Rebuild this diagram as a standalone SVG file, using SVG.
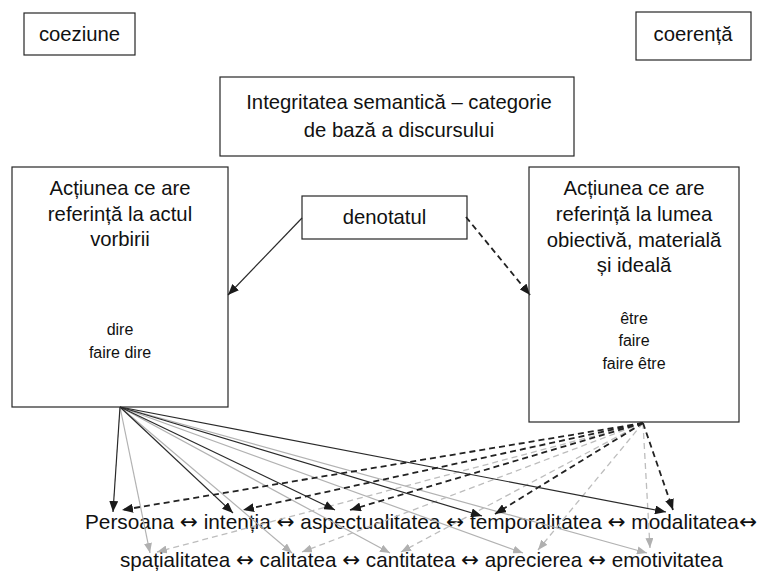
<svg xmlns="http://www.w3.org/2000/svg" width="759" height="573" viewBox="0 0 759 573">
  <style>
    .box { fill: #ffffff; stroke: #262626; stroke-width: 1.2; }
    .t { font-family: "Liberation Sans", Arial, sans-serif; font-size: 20.3px; fill: #111111; text-anchor: middle; }
    .s { font-family: "Liberation Sans", Arial, sans-serif; font-size: 16px; fill: #111111; text-anchor: middle; }
    .row { font-family: "Liberation Sans", Arial, sans-serif; font-size: 20.3px; fill: #111111; }
    .ar { font-family: "Noto Sans", "DejaVu Sans", sans-serif; font-size: 21px; }
    .k { fill: none; stroke: #2a2a2a; stroke-width: 1.2; marker-end: url(#head-dark); }
    .kd { fill: none; stroke: #222222; stroke-width: 1.8; stroke-dasharray: 6 4; marker-end: url(#head-dark); }
    .g { fill: none; stroke: #b2b2b2; stroke-width: 1.2; marker-end: url(#head-grey); }
    .gd { fill: none; stroke: #bdbdbd; stroke-width: 1.3; stroke-dasharray: 6 4; marker-end: url(#head-grey); }
  </style>
  <defs>
    <marker id="head-dark" markerUnits="userSpaceOnUse" markerWidth="11" markerHeight="9" viewBox="0 0 11 9" refX="11" refY="4.5" orient="auto">
      <path d="M0,0 L11,4.5 L0,9 z" fill="#1a1a1a"/>
    </marker>
    <marker id="head-grey" markerUnits="userSpaceOnUse" markerWidth="10" markerHeight="8" viewBox="0 0 10 8" refX="10" refY="4" orient="auto">
      <path d="M0,0 L10,4 L0,8 z" fill="#b0b0b0"/>
    </marker>
  </defs>

  <rect width="759" height="573" fill="#ffffff"/>

  <!-- top labels -->
  <g id="coeziune">
    <rect class="box" x="24" y="13" width="111" height="42"/>
    <text class="t" x="79.5" y="41">coeziune</text>
  </g>
  <g id="coerenta">
    <rect class="box" x="636" y="12" width="115" height="48"/>
    <text class="t" x="693" y="41">coerență</text>
  </g>

  <g id="integritatea">
    <rect class="box" x="220" y="77" width="354" height="79"/>
    <text class="t" x="399" y="109">Integritatea semantică – categorie</text>
    <text class="t" x="399" y="137">de bază a discursului</text>
  </g>

  <!-- the two kinds of action -->
  <g id="actul-vorbirii">
    <rect class="box" x="12" y="167" width="216" height="240"/>
    <text class="t" x="120" y="195">Acțiunea ce are</text>
    <text class="t" x="120" y="221">referință la actul</text>
    <text class="t" x="120" y="246">vorbirii</text>
    <text class="s" x="120" y="335">dire</text>
    <text class="s" x="120" y="358">faire dire</text>
  </g>

  <g id="lumea-obiectiva">
    <rect class="box" x="529" y="167" width="210" height="255"/>
    <text class="t" x="634" y="195">Acțiunea ce are</text>
    <text class="t" x="634" y="221">referință la lumea</text>
    <text class="t" x="634" y="247">obiectivă, materială</text>
    <text class="t" x="634" y="272">și ideală</text>
    <text class="s" x="634" y="324">être</text>
    <text class="s" x="634" y="346">faire</text>
    <text class="s" x="634" y="369">faire être</text>
  </g>

  <g id="denotatul">
    <rect class="box" x="302" y="196" width="165" height="43"/>
    <text class="t" x="384.5" y="224">denotatul</text>
  </g>

  <!-- discourse categories -->
  <g id="categorii-rand1">
    <text class="row" x="85" y="529" textLength="672" lengthAdjust="spacingAndGlyphs">Persoana <tspan class="ar">↔</tspan> intenția <tspan class="ar">↔</tspan> aspectualitatea <tspan class="ar">↔</tspan> temporalitatea <tspan class="ar">↔</tspan> modalitatea<tspan class="ar">↔</tspan></text>
  </g>
  <g id="categorii-rand2">
    <text class="row" x="120" y="567" textLength="603" lengthAdjust="spacingAndGlyphs">spațialitatea <tspan class="ar">↔</tspan> calitatea <tspan class="ar">↔</tspan> cantitatea <tspan class="ar">↔</tspan> aprecierea <tspan class="ar">↔</tspan> emotivitatea</text>
  </g>

  <g id="connectors">
    <!-- denotatul to both actions -->
    <path class="k" d="M302,218 L228,295"/>
    <path class="kd" d="M466,217 L530,295"/>

    <!-- grey: speech act to second row -->
    <path class="g" d="M120,407 L150,553"/>
    <path class="g" d="M120,407 L292,553"/>
    <path class="g" d="M120,407 L390,553"/>
    <path class="g" d="M120,407 L523,553"/>
    <path class="g" d="M120,407 L647,553"/>

    <!-- grey dashed: objective world to second row -->
    <path class="gd" d="M643,423 L157,552"/>
    <path class="gd" d="M643,423 L302,552"/>
    <path class="gd" d="M643,423 L401,552"/>
    <path class="gd" d="M643,423 L538,550"/>
    <path class="gd" d="M643,423 L650,548"/>

    <!-- dark: speech act to first row -->
    <path class="k" d="M120,407 L113,512"/>
    <path class="k" d="M120,407 L233,513"/>
    <path class="k" d="M120,407 L335,510"/>
    <path class="k" d="M120,407 L482,516"/>
    <path class="k" d="M120,407 L666,512"/>

    <!-- dark dashed: objective world to first row -->
    <path class="kd" d="M643,423 L122,510"/>
    <path class="kd" d="M643,423 L243,510"/>
    <path class="kd" d="M643,423 L350,510"/>
    <path class="kd" d="M643,423 L495,514"/>
    <path class="kd" d="M643,423 L673,510"/>
  </g>
</svg>
